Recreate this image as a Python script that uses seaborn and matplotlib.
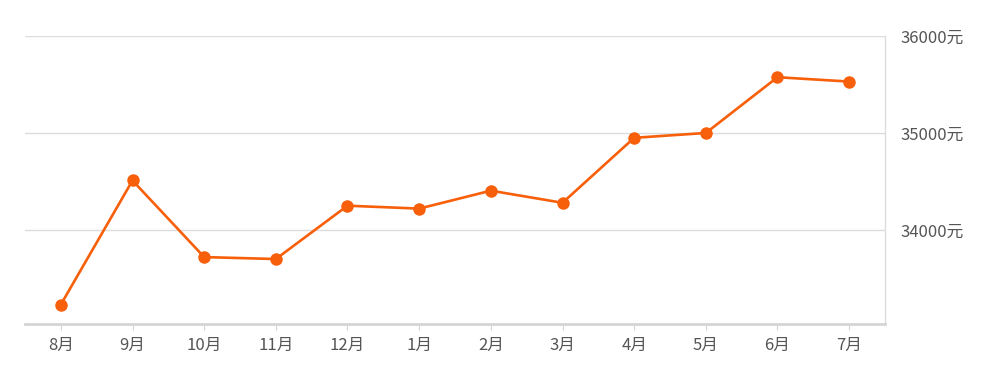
import matplotlib
matplotlib.use("Agg")
import matplotlib.pyplot as plt
import seaborn as sns
import pandas as pd

months = ["8月", "9月", "10月", "11月", "12月", "1月", "2月", "3月", "4月", "5月", "6月", "7月"]
prices = [33230, 34510, 33720, 33700, 34250, 34220, 34405, 34280, 34950, 35000, 35575, 35530]
ytick_values = [34000, 35000, 36000]
ytick_labels = ["34000元", "35000元", "36000元"]

sns.set_theme(style="white")
plt.rcParams['font.family'] = ['Noto Sans CJK SC', 'DejaVu Sans']

df = pd.DataFrame({"month": months, "price": prices, "idx": range(len(months))})

fig = plt.figure(figsize=(9.93, 3.81), dpi=100)
ax = fig.add_axes([25/993, (381-324)/381, 860/993, (324-36)/381])

sns.lineplot(data=df, x="idx", y="price", ax=ax, color="#f75f0a", linewidth=1.9,
             marker="o", markersize=9, markeredgewidth=0, markerfacecolor="#f75f0a", zorder=3)

ax.set_xlim(-0.5, len(months) - 0.5)
ax.set_ylim(33030, 36000)
ax.set_xticks(range(len(months)))
ax.set_xticklabels(months)
ax.set_yticks(ytick_values)
ax.set_yticklabels(ytick_labels)
ax.yaxis.tick_right()
ax.set_xlabel("")
ax.set_ylabel("")

for y in ytick_values:
    ax.axhline(y, color="#dcdcdc", linewidth=1.0, zorder=1)

for s in ["left", "top"]:
    ax.spines[s].set_visible(False)
ax.spines["right"].set_color("#dcdcdc")
ax.spines["right"].set_linewidth(1.0)
ax.spines["bottom"].set_color("#d5d5d5")
ax.spines["bottom"].set_linewidth(2.0)

ax.tick_params(axis="x", length=4, width=0.8, color="#d5d5d5", labelcolor="#555555",
               labelsize=12, pad=5, bottom=True)
ax.tick_params(axis="y", length=0, labelcolor="#555555", labelsize=12, pad=11)

fig.savefig("out.png", dpi=100, facecolor="white")
